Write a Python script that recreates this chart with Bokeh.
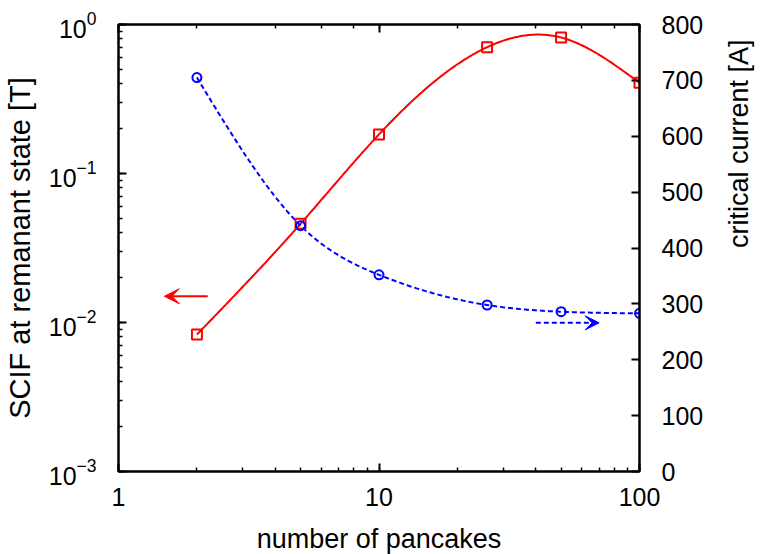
import math
import numpy as np
from bokeh.plotting import figure
from bokeh.models import (Range1d, LinearAxis, LogAxis, Arrow, VeeHead,
                          FixedTicker, BasicTickFormatter, LinearScale)
from bokeh.embed import file_html
from bokeh.resources import INLINE

# ---- data ----
pancakes = [2, 5, 10, 26, 50, 100]
scif = [0.0083, 0.046, 0.183, 0.704, 0.818, 0.406]          # left axis [T]
crit_current = [705, 440, 352, 298, 286, 283]              # right axis [A]
right_ticks = [0, 100, 200, 300, 400, 500, 600, 700, 800]
red_arrow_x = [2.2, 1.5]
red_arrow_y = [0.015, 0.015]
blue_arrow_x = [40, 70]
blue_arrow_y = [266, 266]
x_title = "number of pancakes"
y_title = "SCIF at remanant state [T]"
y2_title = "critical current [A]"

FONT = "Liberation Sans"


def natural_cspline(x, y, n=300):
    """Natural cubic spline (like gnuplot 'smooth csplines')."""
    x = np.asarray(x, float)
    y = np.asarray(y, float)
    m = len(x)
    h = np.diff(x)
    A = np.zeros((m, m))
    b = np.zeros(m)
    A[0, 0] = 1.0
    A[-1, -1] = 1.0
    for i in range(1, m - 1):
        A[i, i - 1] = h[i - 1]
        A[i, i] = 2 * (h[i - 1] + h[i])
        A[i, i + 1] = h[i]
        b[i] = 3 * ((y[i + 1] - y[i]) / h[i] - (y[i] - y[i - 1]) / h[i - 1])
    c = np.linalg.solve(A, b)
    bb = (y[1:] - y[:-1]) / h - h * (2 * c[:-1] + c[1:]) / 3
    d = (c[1:] - c[:-1]) / (3 * h)
    xs = np.linspace(x[0], x[-1], n)
    idx = np.clip(np.searchsorted(x, xs, side="right") - 1, 0, m - 2)
    dx = xs - x[idx]
    ys = y[idx] + bb[idx] * dx + c[idx] * dx ** 2 + d[idx] * dx ** 3
    return xs, ys


lx = np.log10(pancakes)
sx_r, sy_r = natural_cspline(lx, np.log10(scif))
sx_b, sy_b = natural_cspline(lx, crit_current)

p = figure(x_axis_type="log", y_axis_type="log",
           x_range=Range1d(1, 100), y_range=Range1d(1e-3, 1),
           frame_width=521, frame_height=447,
           min_border_left=110, min_border_right=119,
           min_border_top=24, min_border_bottom=75,
           output_backend="svg", toolbar_location=None)
p.extra_y_ranges = {"ic": Range1d(0, 800)}
p.extra_y_scales = {"ic": LinearScale()}
p.xgrid.visible = False
p.ygrid.visible = False
p.outline_line_color = "black"
p.outline_line_width = 2
p.background_fill_color = "white"
p.border_fill_color = "white"


def style_axis(ax, minor=True):
    ax.axis_line_width = 2
    ax.axis_line_color = "black"
    ax.major_tick_in = 8
    ax.major_tick_out = 0
    ax.major_tick_line_width = 2
    ax.minor_tick_in = 4 if minor else 0
    ax.minor_tick_out = 0
    ax.minor_tick_line_width = 1.5
    if not minor:
        ax.minor_tick_line_color = None
    ax.major_label_text_font = FONT
    ax.major_label_text_font_size = "25px"
    ax.major_label_text_color = "black"
    ax.axis_label_text_font = FONT
    ax.axis_label_text_font_size = "27px"
    ax.axis_label_text_font_style = "normal"
    ax.axis_label_text_color = "black"


# bottom x axis
xa = p.xaxis[0]
style_axis(xa)
xa.formatter = BasicTickFormatter()
xa.major_label_standoff = 16
xa.axis_label = x_title
xa.axis_label_standoff = 15

# left y axis
ya = p.yaxis[0]
style_axis(ya)
ya.major_label_standoff = 22
ya.axis_label = y_title
ya.axis_label_text_font_size = "29px"
ya.axis_label_standoff = 10

# top mirror axis (ticks only)
top = LogAxis()
style_axis(top)
top.major_label_text_font_size = "1px"
top.major_label_text_alpha = 0
top.major_label_standoff = 0
p.add_layout(top, "above")

# right axis
ra = LinearAxis(y_range_name="ic", ticker=FixedTicker(ticks=right_ticks),
                axis_label=y2_title)
style_axis(ra, minor=False)
ra.major_label_standoff = 22
ra.axis_label_standoff = 33
ra.axis_label_orientation = math.pi / 2
p.add_layout(ra, "right")

# curves
p.line(10 ** sx_r, 10 ** sy_r, line_color="#ff0000", line_width=2)
p.line(10 ** sx_b, sy_b, line_color="#0000ff", line_width=2,
       line_dash="5 3", y_range_name="ic")
p.scatter(pancakes, scif, marker="square", size=10, fill_color=None,
          line_color="#ff0000", line_width=2)
p.scatter(pancakes, crit_current, marker="circle", size=9, fill_color=None,
          line_color="#0000ff", line_width=2, y_range_name="ic")

# arrows
p.add_layout(Arrow(end=VeeHead(size=15, fill_color="#ff0000", line_color="#ff0000"),
                   x_start=red_arrow_x[0], y_start=red_arrow_y[0],
                   x_end=red_arrow_x[1], y_end=red_arrow_y[1],
                   line_color="#ff0000", line_width=2))
p.add_layout(Arrow(end=VeeHead(size=14, fill_color="#0000ff", line_color="#0000ff"),
                   x_start=blue_arrow_x[0], y_start=blue_arrow_y[0],
                   x_end=blue_arrow_x[1], y_end=blue_arrow_y[1],
                   line_color="#0000ff", line_width=2, line_dash="5 3",
                   y_range_name="ic"))

open("out.html", "w").write(file_html(p, INLINE))
